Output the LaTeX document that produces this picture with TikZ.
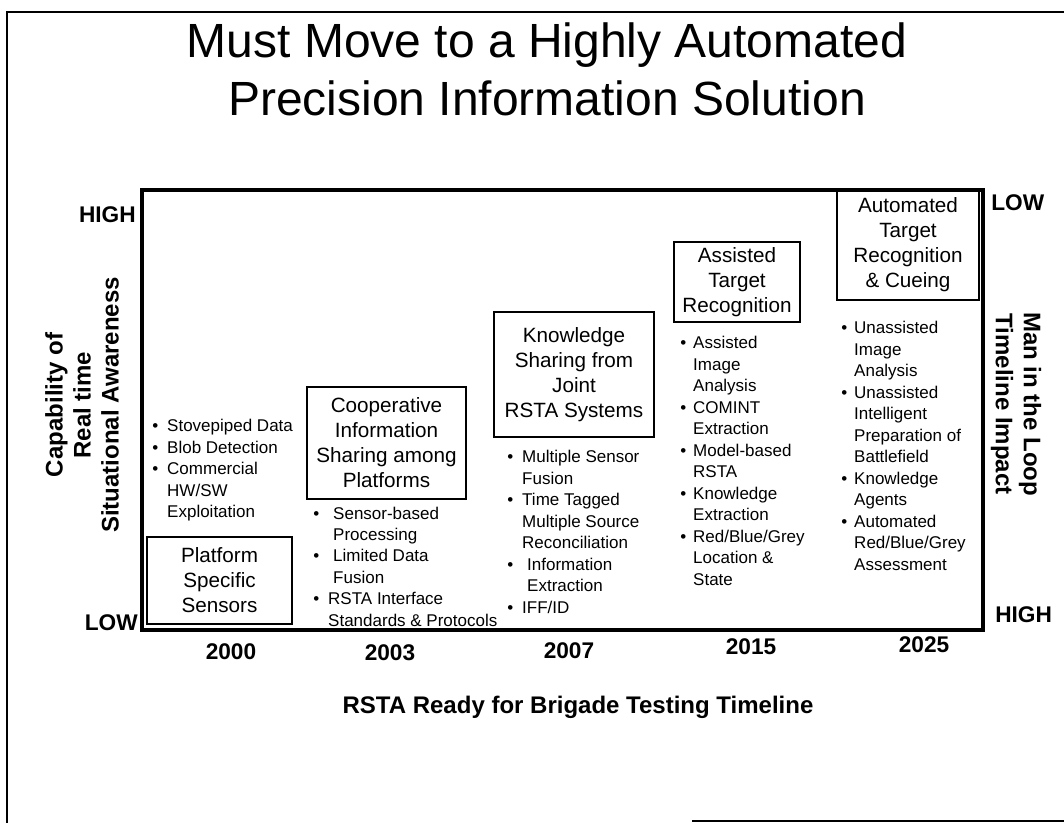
\documentclass[tikz,border=0pt]{standalone}
\usepackage{fontspec}
\setmainfont{Liberation Sans}

\tikzset{
  titletxt/.style={font=\fontsize{36}{43.5}\selectfont, align=center, inner sep=0pt},
  stagebox/.style={draw, line width=1.2pt, align=center, inner sep=1pt, font=\fontsize{15.5}{18.75}\selectfont},
  bullets/.style={anchor=base west, inner sep=0pt, font=\fontsize{12.75}{16.1}\selectfont},
  levellbl/.style={font=\fontsize{17}{20}\selectfont\bfseries, inner sep=0pt},
  yearlbl/.style={font=\fontsize{17}{20}\selectfont\bfseries, inner sep=0pt},
  axislbl/.style={font=\fontsize{18}{21}\selectfont\bfseries, align=center, inner sep=0pt}
}

\begin{document}
\begin{tikzpicture}[x=0.75pt,y=0.75pt,yscale=-1,xscale=1]
\useasboundingbox (0,0) rectangle (1064,823);

%Straight Lines: slide border
\draw [line width=1pt]   (1064,12) -- (7,12) -- (7,823) ;
\draw [line width=1.2pt]   (692,821) -- (1064,821) ;
%Shape: Rectangle (chart frame)
\draw [line width=3.5pt]   (142,190) rectangle (983,630) ;

% Text Node
\node [titletxt, anchor=north] (title) at (547,22) {Must Move to a Highly Automated\\Precision Information Solution};

%Shape: Rectangle
\node [stagebox, minimum width=108.75pt, minimum height=65.25pt] (platform) at (219.5,580.5) {Platform\\Specific\\Sensors};
%Shape: Rectangle
\node [stagebox, minimum width=119.25pt, minimum height=84pt] (coop) at (386.5,443) {Cooperative\\Information\\Sharing among\\Platforms};
%Shape: Rectangle
\node [stagebox, minimum width=120pt, minimum height=93.75pt] (joint) at (574,374.5) {Knowledge\\Sharing from\\Joint\\RSTA Systems};
%Shape: Rectangle
\node [stagebox, minimum width=94.5pt, minimum height=60pt] (assisted) at (737,282) {Assisted\\Target\\Recognition};
%Shape: Rectangle
\node [stagebox, minimum width=106.5pt, minimum height=82.5pt] (automated) at (908,245) {Automated\\Target\\Recognition\\\& Cueing};

% Text Node
\node [bullets] (platformlist) at (152,432) {\begin{tabular}[t]{@{}l@{\hspace{6.75pt}}l@{}}
\textbullet & Stovepiped Data\\
\textbullet & Blob Detection\\
\textbullet & Commercial\\
 & HW/SW\\
 & Exploitation
\end{tabular}};
% Text Node
\node [bullets] (cooplist) at (313,519) {\begin{tabular}[t]{@{}l@{\hspace{10.5pt}}l@{}}
\textbullet & Sensor-based\\
 & Processing\\
\textbullet & Limited Data\\
 & Fusion\\
\textbullet & \hspace{-3.75pt}RSTA Interface\\
 & \hspace{-3.75pt}Standards \& Protocols
\end{tabular}};
% Text Node
\node [bullets] (jointlist) at (507,463) {\begin{tabular}[t]{@{}l@{\hspace{6.75pt}}l@{}}
\textbullet & Multiple Sensor\\
 & Fusion\\
\textbullet & Time Tagged\\
 & Multiple Source\\
 & Reconciliation\\
\textbullet & \hspace{3.75pt}Information\\
 & \hspace{3.75pt}Extraction\\
\textbullet & IFF/ID
\end{tabular}};
% Text Node
\node [bullets] (assistedlist) at (680,349) {\begin{tabular}[t]{@{}l@{\hspace{5.25pt}}l@{}}
\textbullet & Assisted\\
 & Image\\
 & Analysis\\
\textbullet & COMINT\\
 & Extraction\\
\textbullet & Model-based\\
 & RSTA\\
\textbullet & Knowledge\\
 & Extraction\\
\textbullet & Red/Blue/Grey\\
 & Location \&\\
 & State
\end{tabular}};
% Text Node
\node [bullets] (automatedlist) at (841,334) {\begin{tabular}[t]{@{}l@{\hspace{5.25pt}}l@{}}
\textbullet & Unassisted\\
 & Image\\
 & Analysis\\
\textbullet & Unassisted\\
 & Intelligent\\
 & Preparation of\\
 & Battlefield\\
\textbullet & Knowledge\\
 & Agents\\
\textbullet & Automated\\
 & Red/Blue/Grey\\
 & Assessment
\end{tabular}};

% Text Node
\node [axislbl, rotate=90] (capability) at (82,405) {Capability of\\Real time\\Situational Awareness};
% Text Node
\node [axislbl, rotate=-90] (maninloop) at (1016,404) {Man in the Loop\\Timeline Impact};
% Text Node
\node [levellbl, anchor=east] (highcap) at (136,215) {HIGH};
% Text Node
\node [levellbl, anchor=east] (lowcap) at (138,623) {LOW};
% Text Node
\node [levellbl, anchor=west] (lowman) at (991,203) {LOW};
% Text Node
\node [levellbl, anchor=west] (highman) at (995,615) {HIGH};

% Text Node
\node [yearlbl] (y2000) at (231,652) {2000};
% Text Node
\node [yearlbl] (y2003) at (390,653) {2003};
% Text Node
\node [yearlbl] (y2007) at (569,651) {2007};
% Text Node
\node [yearlbl] (y2015) at (751,647) {2015};
% Text Node
\node [yearlbl] (y2025) at (924,645) {2025};
% Text Node
\node [axislbl] (timeline) at (578,707) {RSTA Ready for Brigade Testing Timeline};

\end{tikzpicture}
\end{document}
